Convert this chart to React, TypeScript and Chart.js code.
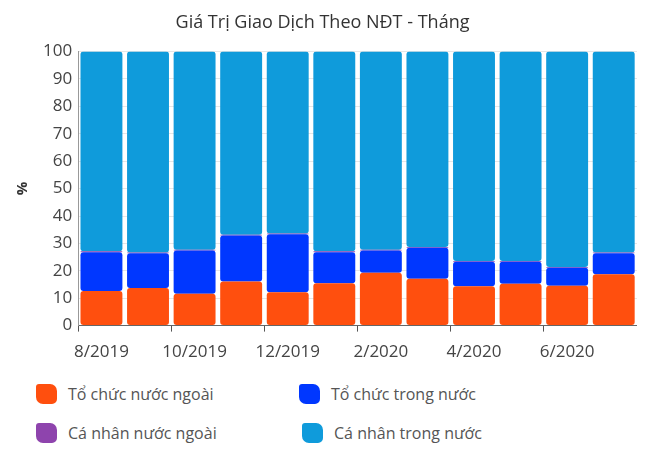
import React, { useEffect, useRef } from 'react';
import { Chart, registerables } from 'chart.js';

Chart.register(...registerables);

const categories = ['8/2019', '9/2019', '10/2019', '11/2019', '12/2019', '1/2020', '2/2020', '3/2020', '4/2020', '5/2020', '6/2020', '7/2020'];
const toChucNuocNgoai = [12.6, 13.7, 11.6, 16.1, 12.2, 15.5, 19.3, 17.1, 14.4, 15.3, 14.5, 18.7];
const toChucTrongNuoc = [14.2, 12.7, 15.8, 16.8, 21.1, 11.3, 8.1, 11.3, 8.9, 8.0, 6.6, 7.7];
const caNhanNuocNgoai = [0.3, 0.3, 0.3, 0.3, 0.3, 0.3, 0.3, 0.3, 0.3, 0.3, 0.3, 0.3];
const caNhanTrongNuoc = [72.9, 73.3, 72.3, 66.8, 66.4, 72.9, 72.3, 71.3, 76.4, 76.4, 78.6, 73.3];

const seriesNames = ['Tổ chức nước ngoài', 'Tổ chức trong nước', 'Cá nhân nước ngoài', 'Cá nhân trong nước'];
const seriesColors = ['#FF4F0E', '#0037FF', '#8E44AD', '#0F9BDB'];
const titleText = 'Giá Trị Giao Dịch Theo NĐT - Tháng';

const FONT = "'Open Sans', sans-serif";

export default function App() {
  const ref = useRef<HTMLCanvasElement | null>(null);

  useEffect(() => {
    if (!ref.current) return;
    const values = [toChucNuocNgoai, toChucTrongNuoc, caNhanNuocNgoai, caNhanTrongNuoc];
    const radius = { topLeft: 3, topRight: 3, bottomLeft: 3, bottomRight: 3 };
    const chart = new Chart(ref.current, {
      type: 'bar',
      data: {
        labels: categories,
        datasets: values.map((v, i) => ({
          label: seriesNames[i],
          data: v,
          backgroundColor: seriesColors[i],
          borderWidth: 0,
          borderRadius: radius,
          borderSkipped: false,
          barPercentage: 0.9,
          categoryPercentage: 1,
        })),
      },
      options: {
        animation: false,
        responsive: true,
        maintainAspectRatio: false,
        layout: { padding: { left: 0, right: 0, top: 0, bottom: 6 } },
        plugins: {
          legend: { display: false },
          tooltip: { enabled: false },
          title: {
            display: true,
            text: titleText,
            color: '#333',
            font: { family: FONT, size: 18, weight: 'normal' },
            padding: { top: 4, bottom: 18 },
          },
        },
        scales: {
          x: {
            stacked: true,
            offset: true,
            grid: {
              offset: true,
              drawOnChartArea: false,
              drawTicks: true,
              tickLength: 6,
              tickColor: (ctx: any) =>
                ctx.index === undefined || ctx.index % 2 === 0 ? '#555' : 'rgba(0,0,0,0)',
            },
            border: { display: true, color: '#666' },
            ticks: {
              autoSkip: false,
              maxRotation: 0,
              padding: 10,
              color: '#444',
              font: { family: FONT, size: 17 },
              callback: (_v: any, idx: number) => (idx % 2 === 0 ? categories[idx] : ''),
            },
          },
          y: {
            stacked: true,
            min: 0,
            max: 100,
            grid: { color: '#e6e6e6', drawTicks: false },
            border: { display: true, color: '#999' },
            ticks: {
              stepSize: 10,
              padding: 6,
              color: '#444',
              font: { family: FONT, size: 17 },
            },
            title: {
              display: true,
              text: '%',
              color: '#333',
              font: { family: FONT, size: 15, weight: 'bold' },
              padding: { top: 6, bottom: 5 },
            },
          },
        },
      },
    });
    return () => chart.destroy();
  }, []);

  const legendPos = [
    { left: 28, top: 376 },
    { left: 291, top: 376 },
    { left: 28, top: 415 },
    { left: 294, top: 415 },
  ];

  return (
    <div style={{ position: 'relative', width: 629, height: 440, fontFamily: FONT }}>
      <div style={{ position: 'relative', width: 629, height: 370 }}>
        <canvas ref={ref} />
      </div>
      {seriesNames.map((name, i) => (
        <div
          key={name}
          style={{
            position: 'absolute',
            left: legendPos[i].left,
            top: legendPos[i].top,
            display: 'flex',
            alignItems: 'center',
            height: 20,
          }}
        >
          <span
            style={{
              display: 'inline-block',
              width: 21,
              height: 20,
              background: seriesColors[i],
              borderRadius: '3px 7px 5px 7px',
              marginRight: 11,
            }}
          />
          <span style={{ color: '#555', fontSize: 16, whiteSpace: 'nowrap' }}>{name}</span>
        </div>
      ))}
    </div>
  );
}
